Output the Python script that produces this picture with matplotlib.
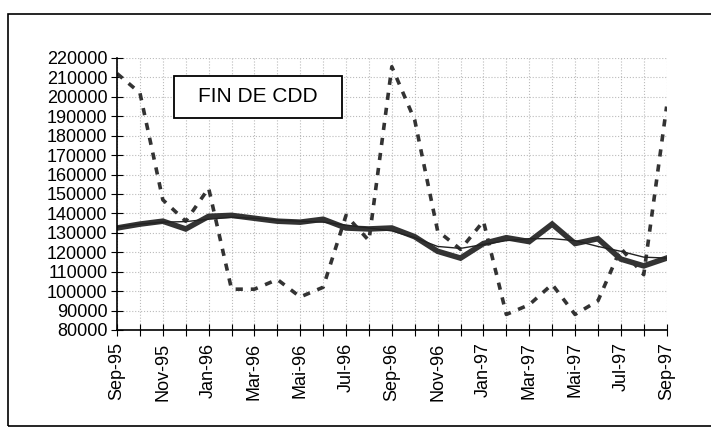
import numpy as np
import matplotlib
matplotlib.use("Agg")
import matplotlib.pyplot as plt
from matplotlib.patches import Rectangle

plt.rcParams['font.family'] = ['Liberation Sans', 'DejaVu Sans']

# mois de sep-95 a sep-97
mois = ["Sep-95", "Oct-95", "Nov-95", "Dec-95", "Jan-96", "Fev-96", "Mar-96",
        "Avr-96", "Mai-96", "Jun-96", "Jul-96", "Aou-96", "Sep-96", "Oct-96",
        "Nov-96", "Dec-96", "Jan-97", "Fev-97", "Mar-97", "Avr-97", "Mai-97",
        "Jun-97", "Jul-97", "Aou-97", "Sep-97"]

# series brute (pointilles), cvs (epais), tendance (fin)
brute = [212000, 202000, 147000, 136000, 153000, 101000, 101000, 106000,
         97000, 102000, 139000, 126000, 215500, 188000, 131000, 121500,
         136000, 88000, 93000, 103500, 88000, 95000, 122000, 108500, 195000]
cvs = [132500, 134500, 136000, 132000, 138500, 139000, 137500, 136000,
       135500, 137000, 132500, 132000, 132500, 128000, 120500, 117000,
       124500, 127500, 125500, 134500, 124500, 127000, 116500, 113000, 117000]
tendance = [133000, 134500, 135500, 135800, 137000, 138000, 137500, 136500,
            136000, 135500, 134000, 132500, 131000, 127500, 123000, 122000,
            124000, 126000, 127000, 127000, 126000, 123000, 120500, 117500, 117000]

x = np.arange(len(mois))

fig = plt.figure(figsize=(7.11, 4.28), dpi=100)
ax = fig.add_axes([0.1646, 0.229, 0.773, 0.6355])

ax.plot(x, brute, color="#333333", lw=2.6, linestyle=(0, (2.0, 2.2)))
ax.plot(x, cvs, color="#333333", lw=4.0, solid_joinstyle="miter")
ax.plot(x, tendance, color="#222222", lw=1.0)

ax.set_xlim(0, 24)
ax.set_ylim(80000, 220000)
ax.set_yticks(np.arange(80000, 220001, 10000))
ax.set_xticks(x)
ax.set_xticklabels([m if i % 2 == 0 else "" for i, m in enumerate(mois)],
                   rotation=90, fontsize=13)
ax.tick_params(axis="y", labelsize=13, direction="inout", length=8, pad=3)
ax.tick_params(axis="x", direction="inout", length=8, pad=5)

ax.grid(True, color="#bbbbbb", linestyle=":", linewidth=0.8)
for s in ["top", "right"]:
    ax.spines[s].set_visible(False)
ax.spines["left"].set_linewidth(1.2)
ax.spines["bottom"].set_linewidth(1.2)

# cadre du titre
ax.add_patch(Rectangle((0.1036, 0.779), 0.3054, 0.155, transform=ax.transAxes,
                       fc="white", ec="black", lw=1.3, zorder=5))
ax.text(0.256, 0.857, "FIN DE CDD", transform=ax.transAxes, fontsize=15,
        ha="center", va="center", zorder=6)

# cadre exterieur
fig.patches.append(Rectangle((8 / 711, 2 / 428), 1.2, 1 - 16 / 428,
                             transform=fig.transFigure, fill=False,
                             ec="black", lw=1.2))

fig.savefig("out.png", dpi=100)
